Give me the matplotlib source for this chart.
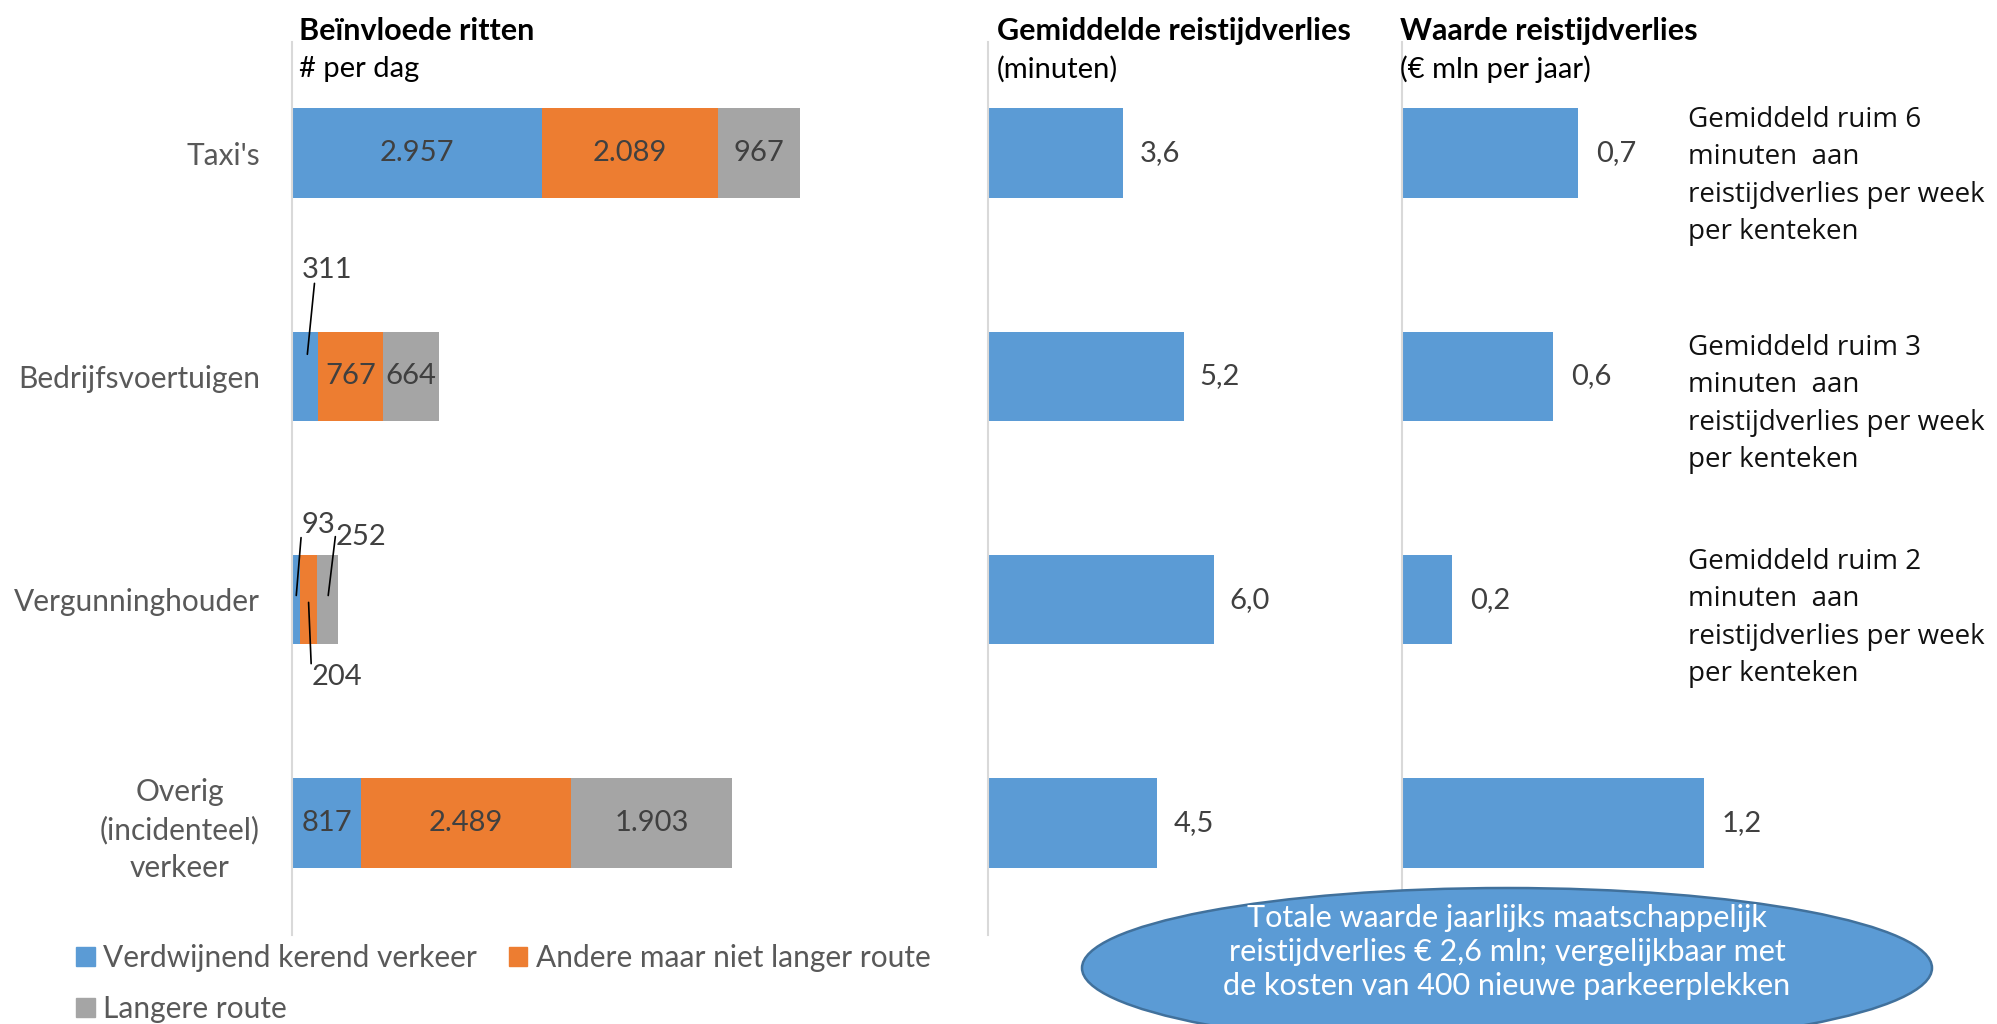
import matplotlib
matplotlib.use('Agg')
import matplotlib.pyplot as plt
from matplotlib.patches import Patch, Ellipse
import matplotlib.transforms as mtransforms

# ---------------- data ----------------
categories = ["Taxi's", "Bedrijfsvoertuigen", "Vergunninghouder", "Overig\n(incidenteel)\nverkeer"]
verdwijnend = [2957, 311, 93, 817]
andere = [2089, 767, 204, 2489]
langere = [967, 664, 252, 1903]
reistijd_min = [3.6, 5.2, 6.0, 4.5]
waarde_mln = [0.7, 0.6, 0.2, 1.2]
series_names = ["Verdwijnend kerend verkeer", "Andere maar niet langer route", "Langere route"]
panel_titles = ["Beïnvloede ritten", "Gemiddelde reistijdverlies", "Waarde reistijdverlies"]
panel_units = ["# per dag", "(minuten)", "(€ mln per jaar)"]
notes = ["Gemiddeld ruim 6\nminuten  aan\nreistijdverlies per week\nper kenteken",
         "Gemiddeld ruim 3\nminuten  aan\nreistijdverlies per week\nper kenteken",
         "Gemiddeld ruim 2\nminuten  aan\nreistijdverlies per week\nper kenteken"]
bubble_text = ("Totale waarde jaarlijks maatschappelijk\n"
               "reistijdverlies € 2,6 mln; vergelijkbaar met\n"
               "de kosten van 400 nieuwe parkeerplekken")

# ---------------- style ----------------
W, H = 1997, 1024
BLUE, ORANGE, GRAY = '#5B9BD5', '#ED7D31', '#A5A5A5'
AXC = '#D9D9D9'
LBL = '#404040'
CAT = '#595959'
FONT = 'Lato'
plt.rcParams['font.family'] = [FONT, 'DejaVu Sans']

fig = plt.figure(figsize=(W / 100, H / 100), dpi=100)
fig.patch.set_facecolor('white')


def fx(px):
    return px / W


def fy(py):
    return 1 - py / H


def add_ax(left, right, top=41.5, bottom=934.5):
    ax = fig.add_axes([fx(left), fy(bottom), (right - left) / W, (bottom - top) / H])
    ax.set_facecolor('none')
    for s in ['top', 'right', 'bottom']:
        ax.spines[s].set_visible(False)
    ax.spines['left'].set_color(AXC)
    ax.spines['left'].set_linewidth(1.5)
    ax.set_xticks([])
    ax.tick_params(axis='y', length=0)
    ax.set_ylim(3.5, -0.5)
    return ax


def nl_int(v):
    return f"{v:,}".replace(',', '.')


def nl_dec(v):
    return f"{v:.1f}".replace('.', ',')


ypos = list(range(len(categories)))
BH = 0.4
FS = 21

# ---------- left panel: stacked ----------
ax1 = add_ax(292, 883)
ax1.set_xlim(0, 7000)
series = [verdwijnend, andere, langere]
colors = [BLUE, ORANGE, GRAY]
lefts = [0] * len(categories)
# offsets for small labels with leader lines: (dx, dy px, relpos, shrinkB pts)
leader = {
    (1, 0): (22, -106, (0.25, 0.0), 16),
    (2, 0): (22, -75, (0.0, 0.0), 3),
    (2, 1): (28, 77, (0.0, 1.0), 2),
    (2, 2): (33, -63, (0.0, 0.5), 3),
}
for si, (vals, col) in enumerate(zip(series, colors)):
    ax1.barh(ypos, vals, left=lefts, height=BH, color=col, edgecolor='none')
    for ci, (v, l) in enumerate(zip(vals, lefts)):
        cx = l + v / 2
        if (ci, si) in leader:
            dx, dy, rp, sb = leader[(ci, si)]
            ax1.annotate(nl_int(v), xy=(cx, ci), xytext=(dx, -dy),
                         textcoords='offset pixels', ha='center', va='center',
                         fontsize=FS, color=LBL,
                         arrowprops=dict(arrowstyle='-', color='black', lw=1.2,
                                         relpos=rp, shrinkA=0, shrinkB=sb,
                                         patchA=None))
        else:
            ax1.text(cx, ci, nl_int(v), ha='center', va='center', fontsize=FS, color=LBL)
    lefts = [a + b for a, b in zip(lefts, vals)]

ax1.set_yticks(ypos)
ax1.set_yticklabels(categories, fontsize=21.5, color=CAT, multialignment='center',
                    linespacing=1.42)
ax1.tick_params(axis='y', pad=23)

# ---------- middle panel ----------
ax2 = add_ax(988, 1364)
ax2.set_xlim(0, 10)
ax2.set_yticks([])
ax2.barh(ypos, reistijd_min, height=BH, color=BLUE, edgecolor='none')
for i, v in enumerate(reistijd_min):
    ax2.annotate(nl_dec(v), xy=(v, i), xytext=(16, 0), textcoords='offset pixels',
                 ha='left', va='center', fontsize=FS, color=LBL)

# ---------- right panel ----------
ax3 = add_ax(1402, 1804)
ax3.set_xlim(0, 1.6)
ax3.set_yticks([])
ax3.barh(ypos, waarde_mln, height=BH, color=BLUE, edgecolor='none')
for i, v in enumerate(waarde_mln):
    ax3.annotate(nl_dec(v), xy=(v, i), xytext=(18, 0), textcoords='offset pixels',
                 ha='left', va='center', fontsize=FS, color=LBL)

# ---------- titles ----------
title_x = [299, 997, 1400]
for x, t, u in zip(title_x, panel_titles, panel_units):
    fig.text(fx(x), fy(31), t, fontsize=22, fontweight='bold', color='black',
             ha='left', va='center')
    fig.text(fx(x), fy(69), u, fontsize=FS, color='black', ha='left', va='center')

# ---------- notes ----------
note_y = [176, 404, 618]
for y, n in zip(note_y, notes):
    fig.text(fx(1688), fy(y), n, fontsize=20, color='#111111', ha='left', va='center',
             family=['Open Sans', 'DejaVu Sans'], linespacing=1.45)

# ---------- legend ----------
handles = [Patch(color=BLUE), Patch(color=GRAY), Patch(color=ORANGE)]
labels = [series_names[0], series_names[2], series_names[1]]
fig.legend(handles, labels, loc='upper left', bbox_to_anchor=(fx(76), fy(944)),
           ncol=2, frameon=False, fontsize=21.5, labelcolor=CAT,
           handlelength=0.62, handleheight=0.62, handletextpad=0.3,
           columnspacing=1.05, labelspacing=0.78, borderpad=0, borderaxespad=0)

# ---------- bubble ----------
px = mtransforms.IdentityTransform()
ell = Ellipse((1507, H - 968), 850, 160, facecolor=BLUE, edgecolor='#41719C', lw=1.8,
              transform=px, zorder=5)
fig.patches.append(ell)
fig.text(fx(1507), fy(952), bubble_text, fontsize=22, color='white', ha='center',
         va='center', linespacing=1.28, zorder=6)

fig.savefig('out.png', dpi=100)
